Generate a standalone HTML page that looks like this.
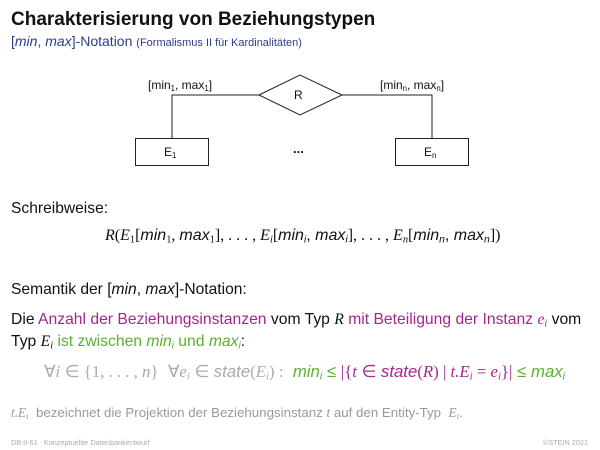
<!DOCTYPE html>
<html><head><meta charset="utf-8"><style>
body{margin:0;width:600px;height:450px;background:#fff;position:relative;overflow:hidden;font-family:"Liberation Sans",sans-serif;color:#111}
.a{position:absolute;white-space:nowrap;line-height:1}
.m{font-family:"Liberation Serif",serif;font-style:italic}
.r{font-family:"Liberation Serif",serif}
sub{font-size:65%;vertical-align:-0.25em;line-height:0}
.mg{color:#a3278f}.gr{color:#5bb030}.gy{color:#aaa}
</style></head><body>
<div class="a" style="left:11px;top:10px;font-size:19px;font-weight:bold">Charakterisierung von Beziehungstypen</div>
<div class="a" style="left:11px;top:34px;font-size:14px;color:#2e3d8a">[<i>min</i>, <i>max</i>]-Notation <span style="font-size:11px">(Formalismus II für Kardinalitäten)</span></div>

<svg class="a" style="left:0;top:0" width="600" height="180">
<g stroke="#222" stroke-width="1" fill="none">
<polygon points="259,95 300,75 342,95 300,115"/>
<polyline points="259,95 172,95 172,138"/>
<polyline points="342,95 432,95 432,138"/>
<rect x="135.5" y="138.5" width="73" height="27"/>
<rect x="395.5" y="138.5" width="73" height="27"/>
</g>
</svg>
<div class="a" style="left:294px;top:89px;font-size:12px">R</div>
<div class="a" style="left:148px;top:79px;font-size:12px">[min<sub>1</sub>, max<sub>1</sub>]</div>
<div class="a" style="left:380px;top:79px;font-size:12px">[min<sub>n</sub>, max<sub>n</sub>]</div>
<div class="a" style="left:164px;top:146px;font-size:12px">E<sub>1</sub></div>
<div class="a" style="left:424px;top:146px;font-size:12px">E<sub>n</sub></div>
<div class="a" style="left:293px;top:142px;font-size:13px;font-weight:bold">...</div>

<div class="a" style="left:11px;top:201px;font-size:15.6px">Schreibweise:</div>
<div class="a" style="left:105px;top:228px;font-size:16px"><span class="m">R</span><span class="r">(</span><span class="m">E</span><sub class="r">1</sub><span class="r">[</span><i>min</i><sub class="r">1</sub><span class="r">, </span><i>max</i><sub class="r">1</sub><span class="r">], . . . , </span><span class="m">E<sub>i</sub></span><span class="r">[</span><i>min<sub>i</sub></i>, <i>max<sub>i</sub></i><span class="r">], . . . , </span><span class="m">E<sub>n</sub></span><span class="r">[</span><i>min<sub>n</sub></i>, <i>max<sub>n</sub></i><span class="r">])</span></div>

<div class="a" style="left:11px;top:282px;font-size:15.6px">Semantik der [<i>min</i>, <i>max</i>]-Notation:</div>
<div class="a" style="left:11px;top:312px;font-size:15.7px">Die <span class="mg">Anzahl der Beziehungsinstanzen</span> vom Typ <span class="m">R</span> <span class="mg">mit Beteiligung der Instanz <span class="m">e<sub>i</sub></span></span> vom</div>
<div class="a" style="left:11px;top:334px;font-size:15.7px">Typ <span class="m">E<sub>i</sub></span> <span class="gr">ist zwischen <i>min<sub>i</sub></i> und <i>max<sub>i</sub></i></span>:</div>
<div class="a" style="left:44px;top:364px;font-size:16.8px"><span class="gy"><span class="r">∀</span><span class="m">i</span> <span class="r">∈ {1, . . . , </span><span class="m">n</span><span class="r">}</span>&nbsp; <span class="r">∀</span><span class="m">e<sub>i</sub></span> <span class="r">∈</span> <i>state</i><span class="r">(</span><span class="m">E<sub>i</sub></span><span class="r">) :</span></span>&nbsp; <span class="gr"><i>min<sub>i</sub></i> ≤</span> <span class="mg"><span class="r">|{</span><span class="m">t</span> <span class="r">∈</span> <i>state</i><span class="r">(</span><span class="m">R</span><span class="r">) | </span><span class="m">t.E<sub>i</sub></span><span class="r"> = </span><span class="m">e<sub>i</sub></span><span class="r">}|</span></span> <span class="gr">≤ <i>max<sub>i</sub></i></span></div>
<div class="a gy" style="left:11px;top:406px;font-size:13.3px;color:#999"><span class="m">t.E<sub>i</sub></span>&nbsp; bezeichnet die Projektion der Beziehungsinstanz <span class="m">t</span> auf den Entity-Typ&nbsp; <span class="m">E<sub>i</sub></span>.</div>
<div class="a" style="left:11px;top:439px;font-size:7.3px;color:#aaa">DB:II-61&nbsp;&nbsp;&nbsp;Konzeptueller Datenbankentwurf</div>
<div class="a" style="right:12px;top:439px;font-size:7.3px;color:#aaa">©STEIN 2021</div>
</body></html>
